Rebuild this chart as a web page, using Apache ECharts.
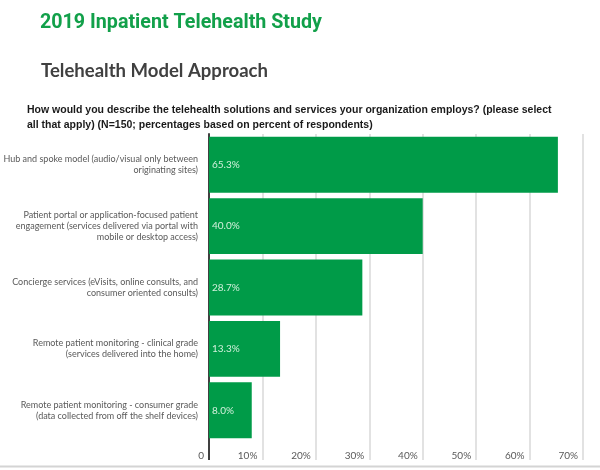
<!DOCTYPE html>
<html>
<head>
<meta charset="utf-8">
<script src="https://cdn.jsdelivr.net/npm/echarts@6/dist/echarts.min.js"></script>
<style>
html,body{margin:0;padding:0;background:#fff;}
#chart{width:600px;height:470px;}
</style>
</head>
<body>
<div id="chart"></div>
<script>
var categories = [
  "Hub and spoke model (audio/visual only between\noriginating sites)",
  "Patient portal or application-focused patient\nengagement (services delivered via portal with\nmobile or desktop access)",
  "Concierge services (eVisits, online consults, and\nconsumer oriented consults)",
  "Remote patient monitoring - clinical grade\n(services delivered into the home)",
  "Remote patient monitoring - consumer grade\n(data collected from off the shelf devices)"
];
var values = [65.3, 40.0, 28.7, 13.3, 8.0];
var tickLabels = ["0", "10%", "20%", "30%", "40%", "50%", "60%", "70%"];
var mainTitle = '2019 Inpatient Telehealth Study';
var sectionTitle = 'Telehealth Model Approach';
var question = 'How would you describe the telehealth solutions and services your organization employs? (please select\nall that apply) (N=150; percentages based on percent of respondents)';

// horizontal squeeze so the condensed heading fonts fit their original widths
function fitScale(text, font, targetWidth) {
  var c = document.createElement('canvas').getContext('2d');
  c.font = font;
  var w = c.measureText(text).width;
  return Math.min(1, targetWidth / w);
}
var titleFont = 'bold 21px Roboto';
var sectionFont = 'bold 19px Lato';
var titleScale = fitScale(mainTitle, titleFont, 282);
var sectionScale = fitScale(sectionTitle, sectionFont, 227);

var chart = echarts.init(document.getElementById('chart'), null, {renderer: 'canvas'});
var option = {
  backgroundColor: '#ffffff',
  animation: false,
  title: [
    {
      text: question,
      left: 27, top: 103, padding: 0,
      textStyle: {fontFamily: 'Liberation Sans', fontWeight: 'bold', fontSize: 10.5, lineHeight: 15, color: '#1a1a1a'}
    }
  ],
  grid: {left: 209, right: 17, top: 134, bottom: 29, containLabel: false, outerBoundsMode: 'none'},
  xAxis: [
    {
      type: 'value', min: 0, max: 70, interval: 10,
      axisLine: {show: false},
      axisTick: {show: true, length: 19, lineStyle: {color: '#d9d9d9', width: 1.5}},
      splitLine: {show: true, lineStyle: {color: '#d9d9d9', width: 1.5}},
      axisLabel: {
        show: true, margin: 10, align: 'right', padding: [0, 5, 0, 0],
        fontFamily: 'Lato', fontSize: 10, color: '#595959',
        formatter: function (v) { return tickLabels[Math.round(v / 10)]; }
      }
    },
    {
      type: 'value', min: 0, max: 70, position: 'bottom',
      axisLine: {show: false},
      axisTick: {show: true, customValues: [0], length: 19, lineStyle: {color: '#404040', width: 2}},
      splitLine: {show: false},
      axisLabel: {show: false}
    }
  ],
  yAxis: {
    type: 'category', data: categories, inverse: true,
    axisLine: {show: true, lineStyle: {color: '#404040', width: 2}},
    axisTick: {show: false},
    axisLabel: {margin: 11, fontFamily: 'Lato', fontSize: 9, lineHeight: 11, color: '#595959', align: 'right'}
  },
  series: [{
    type: 'bar', data: values, barCategoryGap: '9%',
    itemStyle: {color: '#009b48'},
    label: {
      show: true, position: 'insideLeft', distance: 3,
      fontFamily: 'Lato', fontSize: 10, color: '#d2f0dc',
      formatter: function (p) { return p.value.toFixed(1) + '%'; }
    }
  }],
  graphic: [
    {
      type: 'text', silent: true, x: 40, y: 23, scaleX: titleScale, scaleY: 1,
      style: {text: mainTitle, font: titleFont, fill: '#12a04a', align: 'left', verticalAlign: 'middle'}
    },
    {
      type: 'text', silent: true, x: 41, y: 71, scaleX: sectionScale, scaleY: 1,
      style: {text: sectionTitle, font: sectionFont, fill: '#404040', align: 'left', verticalAlign: 'middle'}
    },
    {
      type: 'line', silent: true,
      shape: {x1: 0, y1: 466.5, x2: 600, y2: 466.5},
      style: {stroke: '#d4d4d4', lineWidth: 2}
    }
  ]
};
chart.setOption(option);
</script>
</body>
</html>
